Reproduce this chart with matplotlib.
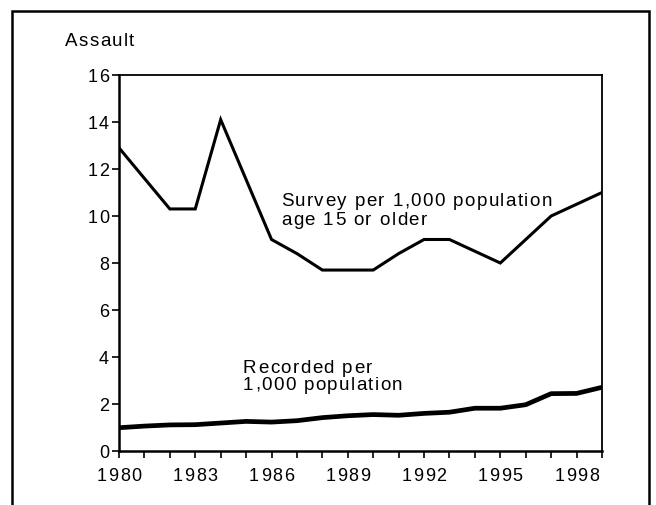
import matplotlib
matplotlib.use("Agg")
import matplotlib.pyplot as plt
from matplotlib.patches import Rectangle
from matplotlib.ticker import MultipleLocator
from matplotlib.font_manager import FontProperties, findfont, get_font

plt.rcParams["font.family"] = ["Liberation Sans", "DejaVu Sans"]

years = list(range(1980, 2000))
survey = [12.9, 11.6, 10.3, 10.3, 14.1, 11.55, 9.0, 8.4, 7.7, 7.7,
          7.7, 8.4, 9.0, 9.0, 8.5, 8.0, 9.0, 10.0, 10.5, 11.0]
recorded = [0.99, 1.06, 1.11, 1.12, 1.19, 1.26, 1.23, 1.29, 1.42, 1.50,
            1.55, 1.52, 1.60, 1.65, 1.82, 1.82, 1.97, 2.44, 2.45, 2.71]
year_ticks = [1980, 1983, 1986, 1989, 1992, 1995, 1998]
y_ticks = [0, 2, 4, 6, 8, 10, 12, 14, 16]

W, H = 656, 506
DPI = 100
fig = plt.figure(figsize=(W / DPI, H / DPI), dpi=DPI)
ax = fig.add_axes([119 / W, 1 - 452 / H, (602 - 119) / W, (452 - 76) / H])


def spaced_text(x_px, base_px, s, size=13.5, track=1.4, ha="left"):
    # the original type is letter-spaced, so place glyphs one by one
    prop = FontProperties(family="Liberation Sans", size=size)
    font = get_font(findfont(prop))
    font.set_size(size, DPI)
    adv = [font.load_char(ord(ch)).linearHoriAdvance / 65536 for ch in s]
    total = sum(adv) + track * (len(s) - 1)
    x = x_px - {"left": 0, "center": total / 2, "right": total}[ha]
    for ch, a in zip(s, adv):
        if ch != " ":
            fig.text(x / W, 1 - base_px / H, ch, fontproperties=prop,
                     ha="left", va="baseline")
        x += a + track


ax.plot(years, survey, color="black", linewidth=2.2, solid_joinstyle="miter")
ax.plot(years, recorded, color="black", linewidth=3.4, solid_joinstyle="round")

ax.set_xlim(1980, 1999)
ax.set_ylim(0, 16)
ax.set_xticks(year_ticks)
ax.xaxis.set_minor_locator(MultipleLocator(1))
ax.set_yticks(y_ticks)
ax.tick_params(axis="both", which="both", direction="out", length=5, width=1.2,
               labelbottom=False, labelleft=False)
for side in ["left", "bottom"]:
    ax.spines[side].set_linewidth(1.8)
for side in ["top", "right"]:
    ax.spines[side].set_linewidth(1.3)

# tick labels, spaced like the original, placed at the axis tick positions
for yr in year_ticks:
    px = ax.transData.transform((yr, 0))[0]
    spaced_text(px, 481, str(yr), size=13, track=1.6, ha="center")
for v in y_ticks:
    py = H - ax.transData.transform((1980, v))[1]
    spaced_text(109, py + 6.3, str(v), size=13, track=1.6, ha="right")

spaced_text(65, 46.5, "Assault", track=1.3)
spaced_text(281, 206.5, "Survey per 1,000 population")
spaced_text(281, 225, "age 15 or older")
spaced_text(243, 373, "Recorded per")
spaced_text(243, 390, "1,000 population")

frame = Rectangle((12 / W, -0.02), (649 - 12) / W, 1 - 12 / H + 0.02,
                  transform=fig.transFigure, fill=False, edgecolor="black",
                  linewidth=1.8, clip_on=False)
fig.patches.append(frame)

fig.savefig("out.png", dpi=DPI)
